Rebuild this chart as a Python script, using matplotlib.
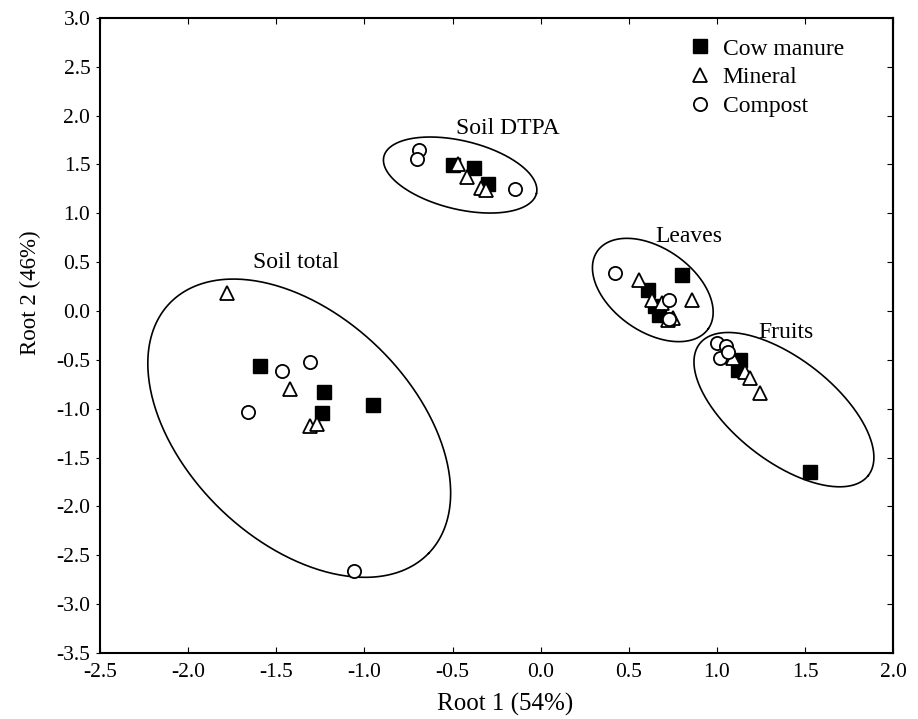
import numpy as np
import matplotlib
matplotlib.use("Agg")
import matplotlib.pyplot as plt

plt.rcParams['font.family'] = ['Liberation Serif', 'DejaVu Serif']

# discriminant scores (Root 1, Root 2)
cow_x = [-1.59, -1.23, -0.95, -1.24,
         -0.50, -0.38, -0.30,
         0.80, 0.61, 0.65, 0.67,
         1.13, 1.12, 1.53]
cow_y = [-0.56, -0.83, -0.96, -1.04,
         1.49, 1.46, 1.30,
         0.37, 0.22, 0.05, -0.04,
         -0.50, -0.60, -1.65]

min_x = [-1.78, -1.42, -1.31, -1.27,
         -0.47, -0.42, -0.34, -0.31,
         0.555, 0.63, 0.69, 0.86, 0.75, 0.72,
         1.09, 1.16, 1.19, 1.245]
min_y = [0.18, -0.80, -1.18, -1.16,
         1.51, 1.37, 1.26, 1.24,
         0.32, 0.11, 0.08, 0.11, -0.075, -0.09,
         -0.485, -0.62, -0.69, -0.84]

comp_x = [-1.47, -1.31, -1.66, -1.06,
          -0.69, -0.70, -0.145,
          0.42, 0.73, 0.73,
          1.00, 1.05, 1.02, 1.06]
comp_y = [-0.61, -0.52, -1.03, -2.66,
          1.65, 1.56, 1.25,
          0.39, 0.11, -0.08,
          -0.33, -0.36, -0.48, -0.42]

# group ellipses: centre (data), semi-axes (px), tilt (deg, screen)
groups = ['Soil total', 'Soil DTPA', 'Leaves', 'Fruits']
ell_cx = [-1.37, -0.457, 0.636, 1.38]
ell_cy = [-1.20, 1.392, 0.215, -1.01]
ell_a = [180, 78.5, 67.7, 107]
ell_b = [113, 34.2, 41.6, 51]
ell_ang = [-44, -13.6, -35, -38]
lab_x = [-1.39, -0.185, 0.84, 1.39]
lab_y = [0.50, 1.87, 0.76, -0.225]

fig = plt.figure(figsize=(9.18, 7.19), dpi=100)
ax = fig.add_axes([0.109, 0.092, 0.864, 0.883])
ax.set_xlim(-2.5, 2.0)
ax.set_ylim(-3.5, 3.0)

ax.plot(cow_x, cow_y, 's', color='black', ms=10, mec='black', label='Cow manure', zorder=3)
ax.plot(min_x, min_y, '^', mfc='white', mec='black', mew=1.3, ms=10, label='Mineral', zorder=4)
ax.plot(comp_x, comp_y, 'o', mfc='white', mec='black', mew=1.3, ms=9.5, label='Compost', zorder=4)

# pixels per data unit, for drawing ellipses in screen space
bb = ax.get_window_extent()
sx = bb.width / 4.5
sy = bb.height / 6.5
t = np.linspace(0, 2 * np.pi, 400)
for cx, cy, a, b, ang in zip(ell_cx, ell_cy, ell_a, ell_b, ell_ang):
    ph = np.deg2rad(ang)
    u = a * np.cos(t)
    v = b * np.sin(t)
    dx = u * np.cos(ph) - v * np.sin(ph)
    dy = u * np.sin(ph) + v * np.cos(ph)
    ax.plot(cx + dx / sx, cy + dy / sy, color='black', lw=1.2, zorder=2)

for g, x, y in zip(groups, lab_x, lab_y):
    ax.text(x, y, g, fontsize=17, ha='center', va='center')

ax.set_xticks(np.arange(-2.5, 2.01, 0.5))
ax.set_yticks(np.arange(-3.5, 3.01, 0.5))
ax.xaxis.set_major_formatter(matplotlib.ticker.FormatStrFormatter('%.1f'))
ax.yaxis.set_major_formatter(matplotlib.ticker.FormatStrFormatter('%.1f'))
ax.tick_params(axis='x', direction='in', top=True, length=4, labelsize=15.5, pad=7)
ax.tick_params(axis='y', direction='out', right=False, length=3, labelsize=15.5, pad=4)
ry = ax.secondary_yaxis('right')
ry.set_yticks(np.arange(-3.5, 3.01, 0.5))
ry.tick_params(direction='in', length=4, labelright=False)
for s in list(ax.spines.values()) + list(ry.spines.values()):
    s.set_linewidth(1.5)

ax.set_xlabel('Root 1 (54%)', fontsize=18)
ax.set_ylabel('Root 2 (46%)', fontsize=16.5)
ax.xaxis.set_label_coords(0.511, -0.063)
ax.yaxis.set_label_coords(-0.075, 0.567)

ax.legend(loc='upper left', bbox_to_anchor=(0.73, 0.983), frameon=False, fontsize=17,
          handlelength=1.0, handletextpad=0.45, labelspacing=0.3, borderaxespad=0)

fig.savefig('out.png', dpi=100)
